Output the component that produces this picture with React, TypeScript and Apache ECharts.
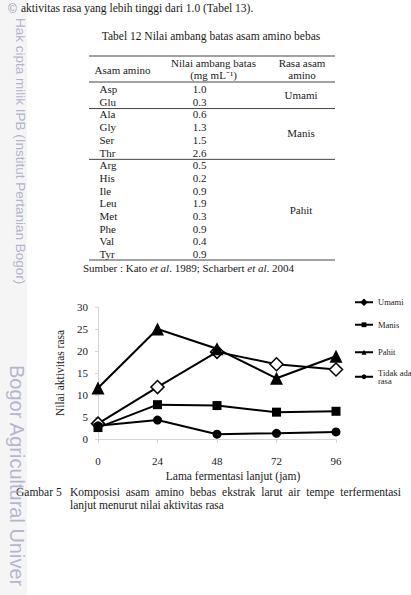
import React, { useEffect, useRef } from "react";
import * as echarts from "echarts";

// Fermentation time (hours) and taste-activity scores per taste group
const hours = [0, 24, 48, 72, 96];
const umamiScores = [3.5, 11.8, 19.8, 17.0, 15.8];
const manisScores = [2.6, 7.8, 7.6, 6.1, 6.3];
const pahitScores = [11.6, 25.0, 20.5, 13.8, 18.8];
const tanpaRasaScores = [3.0, 4.3, 1.1, 1.3, 1.6];
const seriesNames = ["Umami", "Manis", "Pahit", "Tidak ada rasa"];

// Table 12: taste thresholds of free amino acids
const aminoAcids = ["Asp", "Glu", "Ala", "Gly", "Ser", "Thr", "Arg", "His", "Ile", "Leu", "Met", "Phe", "Val", "Tyr"];
const thresholds = [1.0, 0.3, 0.6, 1.3, 1.5, 2.6, 0.5, 0.2, 0.9, 1.9, 0.3, 0.9, 0.4, 0.9];
const tasteGroups = ["Umami", "Manis", "Pahit"];
const tasteGroupSizes = [2, 4, 8];

const SERIF = '"Liberation Serif", "Times New Roman", serif';
const SANS = '"Liberation Sans", Arial, sans-serif';
const INK = "#1a1a1a";
const MARK = "#aaaac6";

function txt(text: string, x: number, y: number, size: number, align = "left", extra: any = {}) {
  return {
    type: "text",
    x,
    y,
    z: 10,
    style: {
      text,
      fontSize: size,
      fontFamily: SERIF,
      fill: INK,
      align,
      textAlign: align,
      verticalAlign: "middle",
      textVerticalAlign: "middle",
      ...extra,
    },
  };
}

function hline(y: number, x1: number, x2: number) {
  return {
    type: "line",
    z: 10,
    shape: { x1, y1: y, x2, y2: y },
    style: { stroke: "#444", lineWidth: 1 },
  };
}

// Spread words evenly between x0 and x1 (justified line)
function justify(words: string[], x0: number, x1: number, font: string) {
  const ctx = document.createElement("canvas").getContext("2d")!;
  ctx.font = font;
  const widths = words.map((w) => ctx.measureText(w).width);
  const total = widths.reduce((a, b) => a + b, 0);
  const gap = (x1 - x0 - total) / (words.length - 1);
  let x = x0;
  return words.map((w, i) => {
    const r = { w, x };
    x += widths[i] + gap;
    return r;
  });
}

function buildGraphics() {
  const els: any[] = [];

  // Left margin strip
  els.push({ type: "rect", z: 1, shape: { x: 0, y: 0, width: 27, height: 595 }, style: { fill: "#f5f5f6" } });

  // Running text above the table
  els.push(txt("aktivitas rasa yang lebih tinggi dari 1.0 (Tabel 13).", 21, 8, 11.5));

  // Table title and rules
  els.push(txt("Tabel 12 Nilai ambang batas asam amino bebas", 211, 36, 11.5, "center"));
  const tx1 = 89;
  const tx2 = 335;
  els.push(hline(56, tx1, tx2));
  els.push(hline(82, tx1, tx2));
  els.push(txt("Asam amino", 122.5, 70, 11, "center"));
  els.push(txt("Nilai ambang batas", 213.5, 63, 11, "center"));
  els.push(txt("(mg mL⁻¹)", 213.5, 74.5, 11, "center"));
  els.push(txt("Rasa asam", 302, 63, 11, "center"));
  els.push(txt("amino", 302, 75, 11, "center"));

  const rowY0 = 89;
  const rowH = 12.7;
  aminoAcids.forEach((aa, i) => {
    const y = rowY0 + i * rowH;
    els.push(txt(aa, 99.5, y, 11));
    els.push(txt(thresholds[i].toFixed(1), 199.5, y, 11, "center"));
  });

  let start = 0;
  tasteGroups.forEach((g, gi) => {
    const n = tasteGroupSizes[gi];
    const yMid = rowY0 + (start + (n - 1) / 2) * rowH;
    els.push(txt(g, 301, yMid, 11, "center"));
    start += n;
    const yLine = rowY0 + (start - 0.5) * rowH + 0.5;
    els.push(hline(gi === tasteGroups.length - 1 ? 260 : yLine, tx1, tx2));
  });

  els.push(
    txt("Sumber : Kato {i|et al}. 1989; Scharbert {i|et al}. 2004", 83, 268, 11, "left", {
      rich: { i: { fontStyle: "italic", fontSize: 11, fontFamily: SERIF, fill: INK } },
    })
  );

  // Figure caption with hanging indent
  const capFont = `11.5px ${SERIF}`;
  els.push(txt("Gambar 5", 16, 492, 11.5));
  justify(
    "Komposisi asam amino bebas ekstrak larut air tempe terfermentasi".split(" "),
    70,
    401,
    capFont
  ).forEach(({ w, x }) => els.push(txt(w, x, 492, 11.5)));
  els.push(txt("lanjut menurut nilai aktivitas rasa", 70, 505, 11.5));

  // Repository marks along the left margin
  els.push({ type: "text", x: 8, y: 3, z: 20, style: { text: "©", fontSize: 12, fontFamily: SANS, fill: "#9a9ab6" } });
  els.push({
    type: "text",
    x: 20,
    y: 18,
    rotation: -Math.PI / 2,
    z: 20,
    style: {
      text: "Hak cipta milik IPB (Institut Pertanian Bogor)",
      fontSize: 13.5,
      fontFamily: SANS,
      fill: MARK,
      opacity: 0.9,
      align: "left",
      textAlign: "left",
      verticalAlign: "middle",
      textVerticalAlign: "middle",
    },
  });
  els.push({
    type: "text",
    x: 17,
    y: 365,
    rotation: -Math.PI / 2,
    z: 20,
    style: {
      text: "Bogor Agricultural Univer",
      fontSize: 20,
      fontFamily: SANS,
      fill: MARK,
      opacity: 0.85,
      align: "left",
      textAlign: "left",
      verticalAlign: "middle",
      textVerticalAlign: "middle",
    },
  });

  return els;
}

export default function App() {
  const ref = useRef<HTMLDivElement>(null);

  useEffect(() => {
    if (!ref.current) return;
    const chart = echarts.init(ref.current, null, { renderer: "svg" });

    const toPairs = (vals: number[]) => hours.map((h, i) => [h, vals[i]]);
    const base = {
      type: "line",
      lineStyle: { color: "#000", width: 2 },
      itemStyle: { color: "#000" },
      emphasis: { disabled: true },
    };

    // Legend row tops (two-line entry aligned to its first line)
    const legendTops = [297.75, 320.25, 347.75, 364];
    const textStyle = {
      fontSize: 8.5,
      fontFamily: SERIF,
      color: "#222",
      lineHeight: 8.5,
      overflow: "none",
      width: 60,
    };

    chart.setOption({
      animation: false,
      backgroundColor: "#fff",
      textStyle: { fontFamily: SERIF },
      grid: { left: 98, right: 75, top: 307, bottom: 156, containLabel: false },
      legend: seriesNames.map((name, i) => {
        const twoLine = name === "Tidak ada rasa";
        return {
          data: [
            name === "Umami"
              ? { name, itemStyle: { color: "#000", borderColor: "#000" } }
              : { name },
          ],
          left: 354,
          width: 60,
          top: legendTops[i],
          padding: 0,
          itemWidth: 18,
          itemHeight: 6,
          itemGap: 0,
          selectedMode: false,
          formatter: twoLine ? "Tidak ada\nrasa" : "{name}",
          textStyle: twoLine ? { ...textStyle, padding: [8.5, 0, 0, 0] } : textStyle,
        };
      }),
      xAxis: {
        type: "value",
        min: 0,
        max: 96,
        interval: 24,
        name: "Lama fermentasi lanjut (jam)",
        nameLocation: "middle",
        nameGap: 31,
        nameTextStyle: { fontSize: 11.5, color: INK, fontFamily: SERIF, padding: [0, 0, 0, 32] },
        axisLine: { show: true, lineStyle: { color: "#d4d4d4", width: 1 } },
        axisTick: { show: true, length: 4, lineStyle: { color: "#d4d4d4" } },
        axisLabel: { margin: 16, fontSize: 11, color: INK, fontFamily: SERIF },
        splitLine: { show: false },
      },
      yAxis: {
        type: "value",
        min: 0,
        max: 30,
        interval: 5,
        name: "Nilai aktivitas rasa",
        nameLocation: "middle",
        nameGap: 26,
        nameRotate: 90,
        nameTextStyle: { fontSize: 11.5, color: INK, fontFamily: SERIF },
        axisLine: { show: true, lineStyle: { color: "#d4d4d4", width: 1 } },
        axisTick: { show: true, length: 3, lineStyle: { color: "#d4d4d4" } },
        axisLabel: { margin: 10, fontSize: 11, color: INK, fontFamily: SERIF },
        splitLine: { show: false },
      },
      series: [
        {
          ...base,
          name: seriesNames[0],
          data: toPairs(umamiScores),
          symbol: "diamond",
          symbolSize: 13,
          itemStyle: { color: "#fff", borderColor: "#000", borderWidth: 1.5 },
        },
        { ...base, name: seriesNames[1], data: toPairs(manisScores), symbol: "rect", symbolSize: 9 },
        { ...base, name: seriesNames[2], data: toPairs(pahitScores), symbol: "triangle", symbolSize: 13 },
        { ...base, name: seriesNames[3], data: toPairs(tanpaRasaScores), symbol: "circle", symbolSize: 9 },
      ],
      graphic: { elements: buildGraphics() },
    });

    return () => chart.dispose();
  }, []);

  return (
    <div
      ref={ref}
      style={{ position: "fixed", left: 0, top: 0, width: 411, height: 595, background: "#fff" }}
    />
  );
}
